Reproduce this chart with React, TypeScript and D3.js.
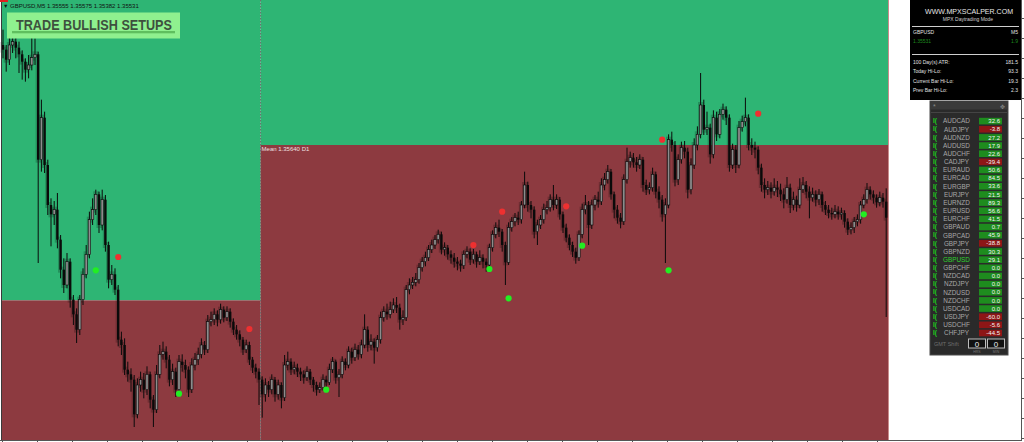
import React from 'react';
import * as d3 from 'd3';

// ---- price data (M5 bars), in points: price = PRICE_BASE + v * POINT ----
const PRICE_BASE = 1.3;
const POINT = 0.00001;
const firstOpen = 5790;
const closes = [
5783,5768,5790,5795,5786,5776,5765,5753,5760,5771,
5776,5618,5681,5610,5550,5536,5543,5498,5453,5430,
5465,5408,5386,5363,5408,5446,5476,5528,5543,5566,
5520,5558,5490,5438,5446,5423,5348,5340,5303,5296,
5288,5236,5280,5288,5273,5296,5258,5243,5296,5326,
5330,5318,5288,5300,5273,5315,5310,5303,5273,5310,
5318,5326,5340,5333,5375,5378,5386,5378,5393,5381,
5390,5375,5363,5356,5348,5333,5340,5318,5306,5300,
5288,5266,5280,5273,5288,5266,5280,5261,5310,5315,
5303,5306,5300,5296,5291,5300,5288,5280,5273,5276,
5288,5284,5303,5315,5291,5296,5315,5310,5330,5321,
5333,5326,5340,5363,5340,5345,5336,5348,5381,5390,
5386,5393,5400,5396,5378,5381,5423,5430,5434,5438,
5456,5465,5471,5483,5490,5498,5506,5483,5486,5476,
5471,5465,5462,5459,5476,5480,5468,5476,5465,5471,
5465,5460,5486,5506,5516,5510,5490,5464,5516,5525,
5531,5528,5550,5580,5550,5543,5510,5520,5528,5543,
5546,5558,5550,5558,5536,5516,5501,5490,5480,5471,
5506,5543,5550,5520,5550,5558,5555,5580,5588,5600,
5566,5543,5531,5525,5588,5615,5621,5614,5610,5618,
5580,5573,5576,5596,5570,5558,5536,5550,5648,5640,
5588,5618,5636,5630,5573,5610,5640,5656,5700,5663,
5666,5626,5681,5656,5686,5693,5681,5610,5633,5610,
5666,5675,5681,5640,5636,5633,5606,5580,5573,5576,
5570,5576,5573,5566,5558,5576,5550,5558,5550,5573,
5580,5570,5561,5566,5558,5566,5550,5543,5538,5536,
5540,5536,5538,5525,5513,5516,5525,5528,5550,5558,
5573,5566,5561,5554,5561,5555,5531];
const highs = [
5813,5790,5805,5810,5805,5795,5782,5770,5775,5812,
5800,5780,5708,5690,5618,5560,5556,5568,5505,5470,
5478,5470,5415,5395,5415,5455,5490,5540,5560,5573,
5570,5573,5565,5495,5460,5455,5430,5360,5350,5315,
5305,5295,5290,5300,5298,5308,5300,5265,5310,5340,
5345,5338,5325,5312,5306,5325,5326,5318,5308,5320,
5328,5336,5350,5346,5385,5390,5395,5392,5402,5398,
5398,5395,5380,5370,5362,5352,5348,5345,5322,5312,
5305,5293,5290,5286,5296,5292,5288,5284,5325,5330,
5320,5315,5312,5306,5302,5308,5304,5292,5285,5284,
5296,5294,5312,5322,5318,5304,5323,5320,5338,5336,
5342,5340,5348,5386,5368,5356,5350,5355,5390,5398,
5402,5405,5410,5412,5402,5392,5430,5440,5442,5448,
5463,5472,5480,5490,5498,5505,5513,5510,5494,5490,
5482,5478,5472,5468,5482,5488,5485,5484,5480,5482,
5476,5470,5492,5512,5524,5528,5514,5495,5524,5532,
5538,5540,5556,5600,5585,5556,5548,5528,5535,5552,
5556,5566,5580,5566,5562,5540,5522,5506,5495,5486,
5512,5552,5565,5556,5558,5565,5570,5590,5598,5610,
5604,5570,5550,5538,5596,5636,5630,5628,5622,5626,
5622,5588,5584,5606,5600,5578,5565,5560,5656,5660,
5646,5626,5645,5646,5636,5620,5650,5668,5748,5708,
5690,5672,5692,5690,5694,5702,5698,5686,5642,5640,
5676,5684,5711,5686,5650,5645,5638,5612,5590,5586,
5584,5590,5586,5582,5575,5592,5582,5570,5564,5590,
5592,5586,5578,5576,5572,5574,5570,5556,5550,5546,
5550,5548,5546,5542,5530,5524,5532,5536,5556,5566,
5583,5578,5572,5566,5570,5568,5575];
const lows = [
5770,5750,5760,5778,5770,5748,5738,5735,5740,5752,
5760,5463,5600,5598,5535,5488,5520,5485,5440,5418,
5425,5396,5370,5343,5355,5400,5440,5470,5520,5535,
5508,5512,5480,5425,5430,5415,5338,5325,5295,5285,
5270,5217,5230,5270,5260,5265,5245,5217,5238,5290,
5318,5305,5278,5280,5262,5268,5300,5290,5262,5268,
5302,5310,5320,5325,5328,5368,5370,5368,5372,5374,
5376,5366,5355,5348,5338,5325,5328,5310,5298,5290,
5250,5231,5255,5262,5266,5255,5258,5245,5256,5302,
5295,5296,5292,5286,5282,5286,5280,5270,5264,5268,
5272,5276,5280,5298,5282,5262,5290,5302,5305,5312,
5316,5318,5320,5335,5330,5332,5312,5330,5342,5375,
5378,5380,5388,5388,5363,5370,5376,5416,5424,5428,
5432,5450,5458,5466,5478,5484,5492,5476,5474,5468,
5462,5456,5452,5450,5454,5470,5460,5462,5456,5460,
5455,5450,5455,5480,5500,5502,5480,5430,5460,5510,
5518,5520,5522,5545,5540,5530,5500,5490,5514,5522,
5536,5540,5542,5544,5528,5508,5494,5482,5472,5462,
5466,5500,5536,5490,5514,5542,5546,5550,5572,5582,
5558,5530,5522,5515,5520,5582,5606,5606,5600,5604,
5570,5565,5566,5570,5560,5545,5525,5463,5545,5630,
5578,5580,5612,5620,5560,5566,5604,5632,5650,5655,
5655,5612,5620,5646,5650,5678,5670,5600,5604,5598,
5605,5660,5668,5632,5625,5620,5596,5570,5560,5565,
5560,5564,5562,5556,5545,5552,5538,5542,5540,5545,
5568,5560,5530,5555,5548,5550,5540,5535,5530,5528,
5530,5528,5528,5516,5505,5506,5508,5518,5522,5545,
5552,5558,5552,5546,5548,5546,5382];

// D1 mean levels (bar index where each level starts)
const meanStartBars = [0, 81];
const meanValues = [1.35407, 1.35640];
const meanLabels = ['', 'Mean 1.35640 D1'];

// signal dots (bar index, price in points)
const sellBars = [36, 77, 147, 156, 176, 206, 236];
const sellPrices = [5472, 5364, 5490, 5540, 5548, 5648, 5687];
const buyBars = [29, 55, 101, 152, 158, 181, 208, 269];
const buyPrices = [5452, 5267, 5273, 5454, 5410, 5489, 5452, 5536];

// header / info panel
const headerText = 'GBPUSD,M5  1.35555 1.35575 1.35382 1.35531';
const signalTitle = 'TRADE BULLISH SETUPS';
const infoLabels = ['100 Day(s) ATR:', 'Today Hi-Lo:', 'Current Bar Hi-Lo:', 'Prev Bar Hi-Lo:'];
const infoValues = ['181.5', '93.3', '19.3', '2.3'];

// currency strength panel
const pairs = ['AUDCAD','AUDJPY','AUDNZD','AUDUSD','AUDCHF','CADJPY','EURAUD','EURCAD','EURGBP','EURJPY','EURNZD','EURUSD','EURCHF','GBPAUD','GBPCAD','GBPJPY','GBPNZD','GBPUSD','GBPCHF','NZDCAD','NZDJPY','NZDUSD','NZDCHF','USDCAD','USDJPY','USDCHF','CHFJPY'];
const pairValues = [32.6,-3.8,27.2,17.9,22.6,-39.4,50.6,84.5,33.6,21.5,89.3,56.6,41.5,0.7,45.9,-38.8,30.3,29.1,0.0,0.0,0.0,0.0,0.0,0.0,-60.0,-5.6,-44.5];
const activePair = 'GBPUSD';

// time axis: one tick per ~11 M5 bars
const timeTickCount = 26;

const FONT = 'Liberation Sans, Arial, sans-serif';

export default function App() {
  const toPrice = (v: number) => PRICE_BASE + v * POINT;
  const n = closes.length;
  const x = d3.scaleLinear().domain([0, n - 1]).range([3, 886.2]);
  const y = d3.scaleLinear().domain([1.358575, 1.351975]).range([0, 440]);
  const plotLeft = 1.5;
  const plotRight = 888.5;
  const plotBottom = 440;

  const opens = closes.map((c, i) => (i === 0 ? firstOpen : closes[i - 1]));

  const zones = meanStartBars.map((b, i) => {
    const x0 = i === 0 ? plotLeft : x(b - 0.5);
    const x1 = i + 1 < meanStartBars.length ? x(meanStartBars[i + 1] - 0.5) : plotRight;
    return { x0, x1, ym: y(meanValues[i]), label: meanLabels[i] };
  });

  const sepX = x(meanStartBars[1] - 0.5);

  const priceTicks = d3.range(1.3520, 1.3586, 0.0003);
  const timeTicks = d3.range(timeTickCount).map(k => x(k * 10.9375 - 0.4));

  const rowY0 = 121;
  const rowStep = 8.15;

  return (
    <svg width={1024} height={442} style={{ position: 'absolute', left: 0, top: 0, background: '#fff' }} fontFamily={FONT}>
      {/* zones */}
      {zones.map((z, i) => (
        <g key={'z' + i}>
          <rect x={z.x0} y={0} width={z.x1 - z.x0} height={z.ym} fill="#2eb574" />
          <rect x={z.x0} y={z.ym} width={z.x1 - z.x0} height={plotBottom - z.ym} fill="#8d3a40" />
        </g>
      ))}
      {/* day separator */}
      <line x1={sepX} x2={sepX} y1={0} y2={plotBottom} stroke="#6a6a6a" strokeDasharray="1.5,1.5" strokeWidth={1} />
      {/* ghost candles */}
      {closes.map((c, i) => {
        const o = opens[i];
        const top = y(toPrice(Math.max(o, c)));
        const bot = y(toPrice(Math.min(o, c)));
        return (
          <rect key={'g' + i} x={x(i) - 2.6} y={top - 3} width={2.4} height={Math.max(2, bot - top + 6)} fill="#000" opacity={0.2} />
        );
      })}
      {/* candles */}
      {closes.map((c, i) => {
        const o = opens[i];
        const cx = x(i);
        const bull = c >= o;
        const top = y(toPrice(Math.max(o, c)));
        const bot = y(toPrice(Math.min(o, c)));
        return (
          <g key={'c' + i}>
            <line x1={cx} x2={cx} y1={y(toPrice(highs[i]))} y2={y(toPrice(lows[i]))} stroke="#0a0a0a" strokeWidth={1} />
            <rect x={cx - 1.2} y={top} width={2.4} height={Math.max(1, bot - top)}
              fill={bull ? '#8c8c8c' : '#0a0a0a'} stroke="#0a0a0a" strokeWidth={bull ? 0.6 : 0} />
          </g>
        );
      })}
      {/* mean label */}
      {zones.map((z, i) => z.label ? (
        <text key={'ml' + i} x={z.x0 + 1} y={z.ym + 5.5} fontSize={6} fill="#f0e0e0">{z.label}</text>
      ) : null)}
      {/* signal dots */}
      {sellBars.map((b, i) => (
        <circle key={'s' + i} cx={x(b)} cy={y(toPrice(sellPrices[i]))} r={3.1} fill="#ee3030" />
      ))}
      {buyBars.map((b, i) => (
        <circle key={'b' + i} cx={x(b)} cy={y(toPrice(buyPrices[i]))} r={3.1} fill="#22ee22" />
      ))}
      {/* right edge of plot */}
      <line x1={plotRight} x2={plotRight} y1={0} y2={plotBottom} stroke="#c98c8c" strokeWidth={1} />
      <rect x={plotRight + 0.5} y={0} width={1021 - plotRight} height={plotBottom} fill="#fff" />
      {/* axes */}
      <line x1={plotLeft} x2={plotLeft} y1={0} y2={plotBottom} stroke="#3a3a3a" strokeWidth={1} />
      <line x1={0} x2={1021.5} y1={plotBottom + 0.5} y2={plotBottom + 0.5} stroke="#555" strokeWidth={1} />
      <line x1={1021.5} x2={1021.5} y1={0} y2={plotBottom + 1} stroke="#555" strokeWidth={1} />
      {priceTicks.map((p, i) => (
        <line key={'pt' + i} x1={1021.5} x2={1024} y1={Math.round(y(p)) + 0.5} y2={Math.round(y(p)) + 0.5} stroke="#555" />
      ))}
      {timeTicks.map((t, i) => (
        <line key={'tt' + i} x1={Math.round(t) + 0.5} x2={Math.round(t) + 0.5} y1={plotBottom} y2={442} stroke="#555" />
      ))}
      {/* header */}
      <rect x={0} y={0} width={8} height={2} fill="#e02020" />
      <text x={3} y={8} fontSize={5.5} fill="#111">▼</text>
      <text x={10} y={8} fontSize={6} fill="#111">{headerText}</text>
      {/* title badge */}
      <rect x={7} y={12.5} width={173} height={26} fill="#8ff08f" />
      <rect x={12} y={31} width={163} height={2.3} fill="#5fbf5f" />
      <text x={16} y={30} fontSize={15} fontWeight="bold" fill="#3e503e" textLength={156} lengthAdjust="spacingAndGlyphs">{signalTitle}</text>

      {/* info panel */}
      <rect x={910} y={0} width={111} height={100} fill="#000" />
      <text x={969} y={13.5} fontSize={8} fill="#e8e8e8" textAnchor="middle" textLength={88} lengthAdjust="spacingAndGlyphs">WWW.MPXSCALPER.COM</text>
      <text x={968} y={20.8} fontSize={5} fill="#d0d0d0" textAnchor="middle">MPX Daytrading Mode</text>
      <line x1={912} x2={1019} y1={26.5} y2={26.5} stroke="#cfcfcf" strokeWidth={1} />
      <text x={913} y={34} fontSize={5} fill="#e0e0e0">GBPUSD</text>
      <text x={1018} y={34} fontSize={5} fill="#e0e0e0" textAnchor="end">M5</text>
      <text x={913} y={43} fontSize={5} fill="#1f8a1f">1.35531</text>
      <text x={1018} y={43} fontSize={5} fill="#1f8a1f" textAnchor="end">1.9</text>
      <line x1={912} x2={1019} y1={54.5} y2={54.5} stroke="#cfcfcf" strokeWidth={1} />
      {infoLabels.map((l, i) => (
        <g key={'il' + i}>
          <text x={913} y={64 + i * 9.3} fontSize={5} fill="#e0e0e0">{l}</text>
          <text x={1018} y={64 + i * 9.3} fontSize={5} fill="#e0e0e0" textAnchor="end">{infoValues[i]}</text>
        </g>
      ))}

      {/* strength panel */}
      <rect x={930} y={101} width={78} height={254} fill="#2a2a2a" stroke="#4a4a4a" strokeWidth={1} />
      <rect x={930.5} y={101.5} width={77} height={8} fill="#3a3a3a" />
      <text x={933} y={109} fontSize={7} fill="#8a8a8a">*</text>
      <text x={1002} y={108.5} fontSize={6} fill="#8a8a8a" textAnchor="middle">✥</text>
      <line x1={931} x2={1007} y1={112.5} y2={112.5} stroke="#444" />
      {pairs.map((p, i) => {
        const cy = rowY0 + i * rowStep;
        const v = pairValues[i];
        const neg = v < 0;
        return (
          <g key={'p' + i}>
            <text x={933} y={cy + 2.3} fontSize={6.5} fontWeight="bold" fill="#1ccf1c">I(</text>
            <text x={956.5} y={cy + 2.4} fontSize={6.4} fill={p === activePair ? '#2fd02f' : '#a8a8a8'} textAnchor="middle">{p}</text>
            <rect x={979} y={cy - 3.2} width={23} height={6.6} fill={neg ? '#8e1616' : '#1e8c1e'} />
            <text x={1000} y={cy + 2.2} fontSize={6} fill="#f4f4f4" textAnchor="end">{v.toFixed(1)}</text>
          </g>
        );
      })}
      <text x={934} y={346} fontSize={5.5} fill="#6e6e6e">GMT Shift</text>
      <rect x={968.5} y={339} width={17} height={9} fill="#111" stroke="#bdbdbd" strokeWidth={1} />
      <rect x={987.5} y={339} width={17} height={9} fill="#111" stroke="#bdbdbd" strokeWidth={1} />
      <text x={977} y={347} fontSize={8} fill="#eee" textAnchor="middle">0</text>
      <text x={996} y={347} fontSize={8} fill="#eee" textAnchor="middle">0</text>
      <text x={977} y={353} fontSize={3.5} fill="#777" textAnchor="middle">HRS</text>
      <text x={996} y={353} fontSize={3.5} fill="#777" textAnchor="middle">MIN</text>
    </svg>
  );
}
